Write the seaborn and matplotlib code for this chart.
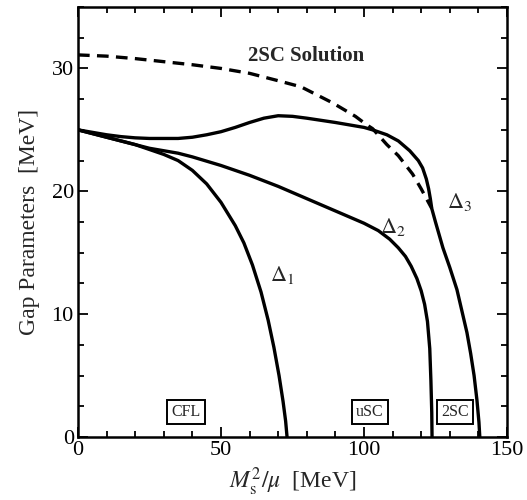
import numpy as np
import pandas as pd
import seaborn as sns
import matplotlib.pyplot as plt
from matplotlib.ticker import MultipleLocator

# Gap parameters versus M_s^2/mu (MeV)
d1_x = [0, 5, 10, 15, 20, 25, 30, 35, 40, 45, 50, 55, 58, 61, 64, 66.5, 68.5, 70.3, 71.7, 72.6, 73.1]
d1_y = [25.0, 24.7, 24.4, 24.1, 23.8, 23.4, 23.0, 22.5, 21.7, 20.6, 19.1, 17.2, 15.8, 14.0, 11.8,
        9.5, 7.3, 5.0, 2.9, 1.3, 0.0]

d2_x = [0, 5, 10, 15, 20, 25, 30, 35, 40, 50, 60, 70, 80, 90, 100, 105, 109, 112, 114.5, 116.5,
        118.5, 120, 121.2, 122.2, 123, 123.4, 123.7, 123.8]
d2_y = [25.0, 24.7, 24.4, 24.1, 23.8, 23.5, 23.3, 23.1, 22.8, 22.1, 21.3, 20.4, 19.4, 18.4, 17.4,
        16.8, 16.1, 15.4, 14.7, 13.9, 12.9, 11.9, 10.8, 9.4, 7.2, 4.6, 2.0, 0.0]

d3_x = [0, 5, 10, 15, 20, 25, 30, 35, 40, 45, 50, 55, 60, 65, 70, 75, 80, 90, 100, 103, 108, 112,
        116, 119, 120.5, 121.8, 122.6, 123.2, 123.7, 125, 127.6, 130, 132.5, 134.5, 136, 137.3,
        138.5, 139.5, 140.2, 140.5]
d3_y = [25.0, 24.8, 24.6, 24.45, 24.35, 24.3, 24.3, 24.3, 24.4, 24.6, 24.85, 25.2, 25.6, 25.95,
        26.15, 26.1, 25.95, 25.6, 25.2, 25.0, 24.6, 24.1, 23.3, 22.5, 21.9, 21.0, 20.2, 19.4, 18.6,
        17.5, 15.4, 13.8, 12.0, 10.0, 8.5, 6.8, 5.0, 3.0, 1.2, 0.0]

sol_x = [0, 10, 20, 30, 40, 50, 60, 70, 78, 89, 97, 101, 103, 108, 112, 117, 120, 123.7]
sol_y = [31.1, 31.0, 30.8, 30.55, 30.3, 30.0, 29.6, 29.0, 28.5, 27.2, 26.1, 25.4, 25.1, 23.8,
         22.9, 21.4, 20.2, 18.6]

curve_labels = [r"$\Delta_1$", r"$\Delta_2$", r"$\Delta_3$"]
label_pos = [(71.3, 13.2), (110.0, 17.1), (133.6, 19.1)]
phase_names = ["CFL", "uSC", "2SC"]
phase_x = [37.8, 102.0, 131.8]

sns.set_theme(style="ticks")
plt.rcParams["font.family"] = ["Liberation Serif", "DejaVu Serif"]
plt.rcParams["mathtext.fontset"] = "stix"

fig = plt.figure(figsize=(5.27, 5.0), dpi=100)
ax = fig.add_axes([0.148, 0.126, 0.814, 0.86])

for xs, ys in [(d1_x, d1_y), (d2_x, d2_y), (d3_x, d3_y)]:
    df = pd.DataFrame({"x": xs, "y": ys})
    sns.lineplot(data=df, x="x", y="y", sort=False, color="black", lw=2.4, ax=ax)

df_sol = pd.DataFrame({"x": sol_x, "y": sol_y})
sns.lineplot(data=df_sol, x="x", y="y", sort=False, color="black", lw=2.4, ax=ax)
ax.lines[-1].set_dashes((3.5, 2.2))

ax.set_xlim(0, 150)
ax.set_ylim(0, 35)
ax.xaxis.set_major_locator(MultipleLocator(50))
ax.xaxis.set_minor_locator(MultipleLocator(10))
ax.yaxis.set_major_locator(MultipleLocator(10))
ax.yaxis.set_minor_locator(MultipleLocator(2.5))
ax.tick_params(which="both", direction="in", top=True, right=True, width=1.3, colors="black",
               labelsize=16, pad=3)
ax.tick_params(which="major", length=7)
ax.tick_params(which="minor", length=4)
for s in ax.spines.values():
    s.set_linewidth(1.8)
    s.set_color("black")

ax.set_xlabel(r"$M_{\rm s}^2/\mu$  [MeV]", fontsize=17, labelpad=4)
ax.set_ylabel("Gap Parameters  [MeV]", fontsize=17, labelpad=8)

ax.text(59.4, 31.0, "2SC Solution", fontsize=15, fontweight="bold", ha="left", va="center")
for lab, (lx, ly) in zip(curve_labels, label_pos):
    ax.text(lx, ly, lab, fontsize=16, ha="center", va="center")
for name, px in zip(phase_names, phase_x):
    ax.text(px, 2.0, name, fontsize=11.5, ha="center", va="center",
            bbox=dict(boxstyle="square,pad=0.25", fc="white", ec="black", lw=1.4))

fig.savefig("out.png", dpi=100)
